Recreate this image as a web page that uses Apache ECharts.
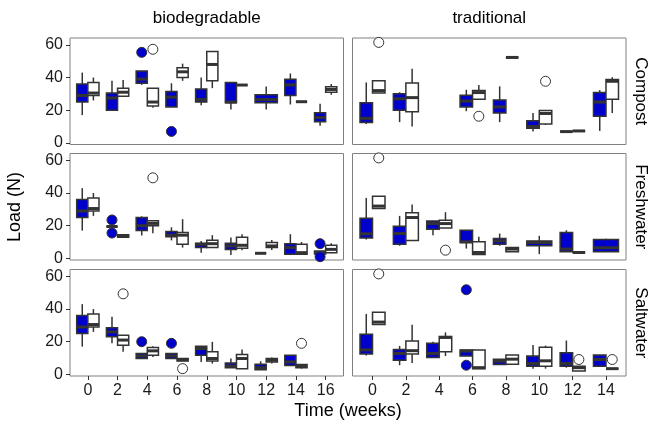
<!DOCTYPE html>
<html>
<head>
<meta charset="utf-8">
<script src="https://cdn.jsdelivr.net/npm/echarts@6/dist/echarts.min.js"></script>
<style>
html, body { margin: 0; padding: 0; background: #fff; }
#chart { width: 651px; height: 428px; }
</style>
</head>
<body>
<div id="chart"></div>
<script>
const weeksBio = [0, 2, 4, 6, 8, 10, 12, 14, 16]
const weeksTrad = [0, 2, 4, 6, 8, 10, 12, 14]
const materials = ['biodegradable', 'traditional']
const media = ['Compost', 'Freshwater', 'Saltwater']
const yTicks = [0, 20, 40, 60]

// box stats per week: [min, q1, median, q3, max], null = no samples
const compostBioBlue = [
  [17, 25, 29, 36, 43], [20, 20, 27.5, 30.5, 38], [35.5, 36.5, 39, 44, 44],
  [22, 22, 28, 31.5, 36.5], [23, 25, 26.5, 33, 40], [20.5, 24.5, 25, 37, 37],
  [20.5, 24.5, 26.5, 29.5, 34.5], [23.5, 29, 35.5, 39, 42.5], [10.5, 13, 15.5, 18.5, 24],
]
const compostBioOpen = [
  [26, 29, 30.5, 37, 40], [28.5, 28.5, 31, 33.5, 38.5], [21.5, 22.5, 25, 33.5, 33.5],
  [38, 40, 43.5, 46, 48.5], [33.5, 38, 48, 56, 56], [35.4, 35.4, 35.4, 35.4, 35.4],
  null, [25.2, 25.2, 25.2, 25.2, 25.2], [29.5, 31, 32.7, 34.4, 36],
]
const compostTradBlue = [
  [11.5, 12.5, 15, 24.5, 37], [12.7, 20, 27, 30, 31], null,
  [19.4, 22, 25.6, 29.2, 32.5], [12.7, 18.3, 22, 26.3, 34.6], [7, 9, 10, 13.5, 18.3],
  [6.9, 6.9, 6.9, 6.9, 6.9], [7.3, 16.3, 25, 30.8, 32.3],
]
const compostTradOpen = [
  [30.5, 30.5, 32, 38, 38], [10, 19, 27.7, 36.7, 45.4], null,
  [26.7, 26.7, 30.8, 32, 35.4], [52.3, 52.3, 52.3, 52.3, 52.3], [11, 11.5, 18, 19.8, 19.8],
  [7.3, 7.3, 7.3, 7.3, 7.3], [18.3, 26.7, 37.7, 38.8, 40.2],
]
const freshBioBlue = [
  [17, 25, 29, 36, 43], [19.5, 19.5, 19.5, 19.5, 19.5], [14, 17, 20, 25, 25.7],
  [11, 13.3, 14.2, 16.4, 19], [3.5, 6.6, 8.6, 9.2, 10.7], [2, 5.5, 7.6, 9.2, 12.7],
  [3.1, 3.1, 3.1, 3.1, 3.1], [2, 2.5, 6.6, 9, 14.8], [2.5, 2.6, 3.5, 4.5, 4.5],
]
const freshBioOpen = [
  [26, 29, 30.5, 37, 40], [13, 13, 14, 14.5, 14.5], [15.4, 20, 21.4, 23, 23],
  [6.6, 8.6, 14.2, 15.8, 24], [6.6, 6.6, 9, 11.1, 14.2], [5, 6.2, 8, 13, 14.8],
  [5.1, 6.6, 7.6, 9.7, 11.3], [2.5, 2.5, 3.5, 8.6, 10], [3.1, 3.5, 5.5, 8, 9.2],
]
const freshTradBlue = [
  [11.5, 12.5, 15, 24.5, 37], [7.7, 8.7, 15.2, 19.6, 26], [14.2, 17.8, 21.3, 22.9, 22.9],
  [6, 9.7, 10.1, 17.2, 17.2], [7.7, 8.7, 10.7, 12.1, 15.2], [2.6, 7.7, 9.7, 10.7, 13.8],
  [4, 4, 5.7, 15.8, 17.2], [4, 4, 6.5, 11.5, 12],
]
const freshTradOpen = [
  [30.5, 30.5, 32, 38, 38], [11, 11, 25, 28, 33], [18.6, 18.6, 21.3, 23.3, 28.3],
  [2.4, 2.4, 3.6, 10.1, 13.2], [4, 4, 5.7, 6.7, 6.7], null,
  [3.6, 3.6, 3.6, 3.6, 3.6], null,
]
const saltBioBlue = [
  [17, 25, 29, 36, 43], [19, 23, 26, 28.5, 35.3], [9.7, 9.7, 11.3, 12.7, 12.7],
  [9.7, 9.7, 11.3, 12.7, 12.7], [7.6, 11.7, 15.8, 17.2, 17.2], [4.1, 4.1, 5.1, 7, 9.7],
  [2.9, 2.9, 4.1, 6.2, 8], [5.5, 5.5, 7.6, 11.7, 11.7], null,
]
const saltBioOpen = [
  [26, 29, 30.5, 37, 40], [13.8, 17.9, 21, 24, 24], [10.7, 11.7, 14.4, 16.4, 17.2],
  [8.2, 8.2, 9, 9.7, 9.7], [6.6, 8.2, 9.7, 13.8, 19.9], [3.5, 3.5, 9.7, 12.1, 15.2],
  [6.6, 7.6, 8.6, 9.7, 10.3], [3.5, 4.1, 4.9, 6, 6], null,
]
const saltTradBlue = [
  [11.5, 12.5, 15, 24.5, 37], [5.6, 8.7, 12.8, 15.3, 17.4], [10.4, 10.4, 12.8, 19, 20],
  [11.2, 11.2, 14.3, 14.9, 14.9], [6, 6, 8.1, 9.3, 9.3], [3.5, 5, 6.6, 11.2, 18],
  [4.1, 5, 6.6, 13.3, 20.7], [4.5, 5, 9.1, 11.8, 11.8],
]
const saltTradOpen = [
  [30.5, 30.5, 32, 38, 38], [7, 12.4, 14.5, 20.5, 30.4], [11.2, 13.9, 22.6, 23.2, 25.7],
  [3.5, 3.5, 4.1, 14.9, 14.9], [6.2, 6.2, 9.3, 11.8, 11.8], [3.5, 5, 8.3, 16.6, 17.6],
  [2.1, 2.1, 4.1, 5, 5], [3.5, 3.5, 3.5, 3.5, 3.5],
]

// outliers: [week, load]
const compostBioBlueOut = [[4, 55.4], [6, 7]]
const compostBioOpenOut = [[4, 57.3]]
const compostTradBlueOut = []
const compostTradOpenOut = [[0, 61.5], [6, 16.3], [10, 37.7]]
const freshBioBlueOut = [[2, 23.5], [2, 15.5], [16, 9], [16, 1]]
const freshBioOpenOut = [[4, 49.3]]
const freshTradBlueOut = []
const freshTradOpenOut = [[0, 61.5], [4, 5]]
const saltBioBlueOut = [[4, 20], [6, 19]]
const saltBioOpenOut = [[2, 49.3], [6, 3.5], [14, 19]]
const saltTradBlueOut = [[6, 51.8], [6, 5.6]]
const saltTradOpenOut = [[0, 61.5], [12, 9.1], [14, 9.1]]

const BLUE = '#0000CD'
const LINE = '#333333'
const FONT = "'Liberation Sans', Arial, sans-serif"
const DODGE = 0.75

const panels = [
  [compostBioBlue, compostBioOpen, compostBioBlueOut, compostBioOpenOut],
  [compostTradBlue, compostTradOpen, compostTradBlueOut, compostTradOpenOut],
  [freshBioBlue, freshBioOpen, freshBioBlueOut, freshBioOpenOut],
  [freshTradBlue, freshTradOpen, freshTradBlueOut, freshTradOpenOut],
  [saltBioBlue, saltBioOpen, saltBioBlueOut, saltBioOpenOut],
  [saltTradBlue, saltTradOpen, saltTradBlueOut, saltTradOpenOut],
]

const colLeft = [70, 352.5]
const rowTop = [38, 153.5, 269.5]
const panelW = 273.5
const panelH = 106.5

// ggplot-style dodge: a box without a partner takes the full width
const boxRows = (stats, other, side) => {
  const rows = []
  stats.forEach((s, i) => {
    if (s) rows.push([i, ...s, other[i] ? side : 0])
  })
  return rows
}
const outRows = (out, weeks, other, side) =>
  out.map(([w, v]) => {
    const i = weeks.indexOf(w)
    const sd = other[i] ? side : 0
    return [i + sd * DODGE / 4, v]
  })

const renderBox = (fill) => (params, api) => {
  const i = api.value(0)
  const side = api.value(6)
  const cx = api.coord([i + side * DODGE / 4, 0])[0]
  const w = api.size([side === 0 ? DODGE : DODGE / 2, 0])[0]
  const y = (k) => api.coord([i, api.value(k)])[1]
  const yMin = y(1), yQ1 = y(2), yMed = y(3), yQ3 = y(4), yMax = y(5)
  return {
    type: 'group',
    children: [
      { type: 'line', shape: { x1: cx, y1: yMax, x2: cx, y2: yMin }, style: { stroke: LINE, lineWidth: 1.5 } },
      { type: 'rect', shape: { x: cx - w / 2, y: yQ3, width: w, height: yQ1 - yQ3 }, style: { fill, stroke: LINE, lineWidth: 1.5 } },
      { type: 'line', shape: { x1: cx - w / 2, y1: yMed, x2: cx + w / 2, y2: yMed }, style: { stroke: LINE, lineWidth: 3 } },
    ],
  }
}

const grid = []
const xAxis = []
const yAxis = []
const series = []

panels.forEach(([blue, open, blueOut, openOut], p) => {
  const row = Math.floor(p / 2)
  const col = p % 2
  const weeks = col === 0 ? weeksBio : weeksTrad
  const idx = weeks.map((_, i) => i)
  grid.push({
    left: colLeft[col], top: rowTop[row], width: panelW, height: panelH,
    show: true, borderColor: '#808080', borderWidth: 1, backgroundColor: '#fff',
  })
  xAxis.push({
    type: 'value', gridIndex: p, min: -0.6, max: weeks.length - 0.4,
    position: 'bottom',
    axisLine: { show: false, onZero: false },
    splitLine: { show: false },
    axisTick: { show: row === 2, customValues: idx, length: 4, lineStyle: { color: LINE } },
    axisLabel: {
      show: row === 2, customValues: idx, margin: 7,
      formatter: (v) => String(weeks[Math.round(v)]),
      color: '#1a1a1a', fontSize: 16, fontFamily: FONT,
    },
  })
  yAxis.push({
    type: 'value', gridIndex: p, min: -1, max: 64.2,
    position: 'left',
    axisLine: { show: false, onZero: false },
    splitLine: { show: false },
    axisTick: { show: col === 0, customValues: yTicks, length: 4, lineStyle: { color: LINE } },
    axisLabel: {
      show: col === 0, customValues: yTicks, margin: 7,
      color: '#1a1a1a', fontSize: 16, fontFamily: FONT,
    },
  })
  const groups = [
    { stats: blue, other: open, out: blueOut, side: -1, fill: BLUE },
    { stats: open, other: blue, out: openOut, side: 1, fill: '#ffffff' },
  ]
  groups.forEach((g) => {
    series.push({
      type: 'custom', xAxisIndex: p, yAxisIndex: p,
      renderItem: renderBox(g.fill),
      encode: { x: 0, y: [1, 2, 3, 4, 5] },
      data: boxRows(g.stats, g.other, g.side),
      silent: true,
    })
    series.push({
      type: 'scatter', xAxisIndex: p, yAxisIndex: p, z: 3,
      symbolSize: 10,
      itemStyle: { color: g.fill, borderColor: LINE, borderWidth: 1, opacity: 1 },
      data: outRows(g.out, weeks, g.other, g.side),
      silent: true,
    })
  })
})

const textStyle = (size) => ({ fill: '#000', font: `${size}px ${FONT}`, textAlign: 'center', textVerticalAlign: 'middle' })
const graphic = [
  ...materials.map((m, c) => ({ type: 'text', x: colLeft[c] + panelW / 2, y: 18, style: { text: m, ...textStyle(17) } })),
  ...media.map((m, r) => ({ type: 'text', x: 641, y: rowTop[r] + panelH / 2, rotation: -Math.PI / 2, style: { text: m, ...textStyle(17) } })),
  { type: 'text', x: 15, y: 207, rotation: Math.PI / 2, style: { text: 'Load (N)', ...textStyle(18) } },
  { type: 'text', x: 348, y: 411, style: { text: 'Time (weeks)', ...textStyle(18) } },
]

const chart = echarts.init(document.getElementById('chart'))
chart.setOption({
  animation: false,
  backgroundColor: '#fff',
  grid, xAxis, yAxis, series, graphic,
})
</script>
</body>
</html>
